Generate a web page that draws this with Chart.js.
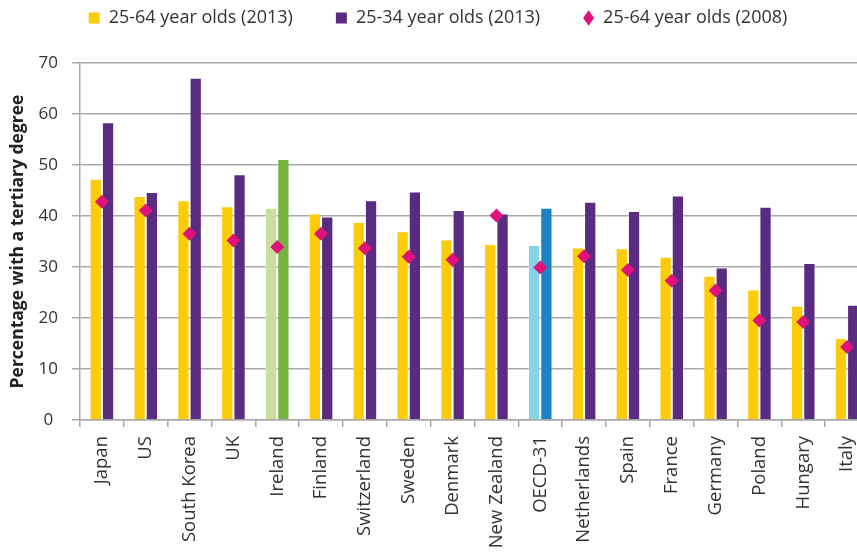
<!DOCTYPE html>
<html>
<head>
<meta charset="utf-8">
<script src="https://cdn.jsdelivr.net/npm/chart.js@4/dist/chart.umd.min.js"></script>
<style>
    html, body { margin: 0; padding: 0; background: #fff; overflow: hidden; }
    #wrap { position: relative; width: 876px; height: 554px; }
</style>
</head>
<body>
<div id="wrap"><canvas id="chart"></canvas></div>
<script>
const countries = ['Japan', 'US', 'South Korea', 'UK', 'Ireland', 'Finland', 'Switzerland', 'Sweden', 'Denmark',
    'New Zealand', 'OECD-31', 'Netherlands', 'Spain', 'France', 'Germany', 'Poland', 'Hungary', 'Italy'];
const adults2013 = [47.3, 43.9, 43.1, 41.9, 41.6, 40.5, 38.8, 37.0, 35.4, 34.5, 34.3, 33.8, 33.7, 32.0, 28.3, 25.6, 22.4, 16.1];
const young2013 = [58.4, 44.7, 67.1, 48.2, 51.2, 39.9, 43.1, 44.8, 41.2, 40.5, 41.6, 42.8, 41.0, 44.0, 29.9, 41.8, 30.8, 22.6];
const adults2008 = [42.8, 41.1, 36.5, 35.2, 33.9, 36.5, 33.7, 32.0, 31.4, 40.1, 29.9, 32.1, 29.4, 27.3, 25.4, 19.5, 19.2, 14.3];
const seriesNames = ['25-64 year olds (2013)', '25-34 year olds (2013)', '25-64 year olds (2008)'];
const yTicks = [0, 10, 20, 30, 40, 50, 60, 70];

const FONT = '"Open Sans", "DejaVu Sans", sans-serif';
const gridColor = '#a9a9a9';

// Ireland and the OECD average get their own colours
function barColors(normal, ireland, oecd) {
    return countries.map(c => c === 'Ireland' ? ireland : (c === 'OECD-31' ? oecd : normal));
}

// extra room between the legend and the plot
const legendGap = {
    id: 'legendGap',
    beforeInit(chart) {
        const fit = chart.legend.fit;
        chart.legend.fit = function() {
            fit.call(this);
            this.height += 26;
        };
    }
};

const ctx = document.getElementById('chart').getContext('2d');
new Chart(ctx, {
    type: 'bar',
    data: {
        labels: countries,
        datasets: [
            {
                label: seriesNames[0],
                data: adults2013,
                backgroundColor: barColors('#fccb0a', '#c9df9b', '#88d3ec'),
                borderColor: 'rgba(255, 255, 255, 0.3)',
                borderWidth: 1,
                categoryPercentage: 0.56,
                barPercentage: 1.0,
                order: 1
            },
            {
                label: seriesNames[1],
                data: young2013,
                backgroundColor: barColors('#592c82', '#77b43f', '#1a82c5'),
                borderColor: 'rgba(255, 255, 255, 0.3)',
                borderWidth: 1,
                categoryPercentage: 0.56,
                barPercentage: 1.0,
                order: 1
            },
            {
                type: 'line',
                label: seriesNames[2],
                data: adults2008,
                showLine: false,
                pointStyle: 'rectRot',
                pointRadius: 7,
                pointHoverRadius: 7,
                pointBorderWidth: 0,
                backgroundColor: '#e0127c',
                borderColor: '#e0127c',
                order: 0
            }
        ]
    },
    plugins: [legendGap],
    options: {
        responsive: true,
        maintainAspectRatio: false,
        animation: false,
        layout: {
            padding: { top: -34, left: 0, right: 0, bottom: 0 }
        },
        plugins: {
            tooltip: { enabled: false },
            legend: {
                display: true,
                position: 'top',
                labels: {
                    usePointStyle: true,
                    pointStyleWidth: 11,
                    boxHeight: 11,
                    padding: 43,
                    color: '#333',
                    font: { family: FONT, size: 18 },
                    sort: (a, b) => a.datasetIndex - b.datasetIndex,
                    generateLabels: (chart) => {
                        const items = Chart.defaults.plugins.legend.labels.generateLabels(chart);
                        items.forEach(item => {
                            item.pointStyle = item.datasetIndex === 2 ? 'rectRot' : 'rect';
                            item.lineWidth = 0;
                        });
                        return items;
                    }
                }
            }
        },
        scales: {
            x: {
                afterFit: (scale) => {
                    scale.height = 134;
                    scale.paddingLeft = 0;
                    scale.paddingRight = 0;
                },
                grid: {
                    offset: true,
                    drawOnChartArea: false,
                    tickLength: 7,
                    color: gridColor,
                    lineWidth: 1.5
                },
                border: { color: gridColor, width: 1.5 },
                ticks: {
                    autoSkip: false,
                    minRotation: 90,
                    maxRotation: 90,
                    padding: 9,
                    color: '#333',
                    font: { family: FONT, size: 18.5 }
                }
            },
            y: {
                min: 0,
                max: 70,
                afterFit: (scale) => { scale.width = 80; },
                afterBuildTicks: (scale) => { scale.ticks = yTicks.map(v => ({ value: v })); },
                title: {
                    display: true,
                    text: 'Percentage with a tertiary degree',
                    color: '#222',
                    padding: { top: 8, bottom: 0 },
                    font: { family: FONT, size: 17.5, weight: 'bold' }
                },
                grid: {
                    tickLength: 8,
                    color: gridColor,
                    lineWidth: 1.5
                },
                border: { color: gridColor, width: 1.5 },
                ticks: {
                    crossAlign: 'center',
                    padding: 14,
                    color: '#333',
                    font: { family: FONT, size: 17 }
                }
            }
        }
    }
});
</script>
</body>
</html>
